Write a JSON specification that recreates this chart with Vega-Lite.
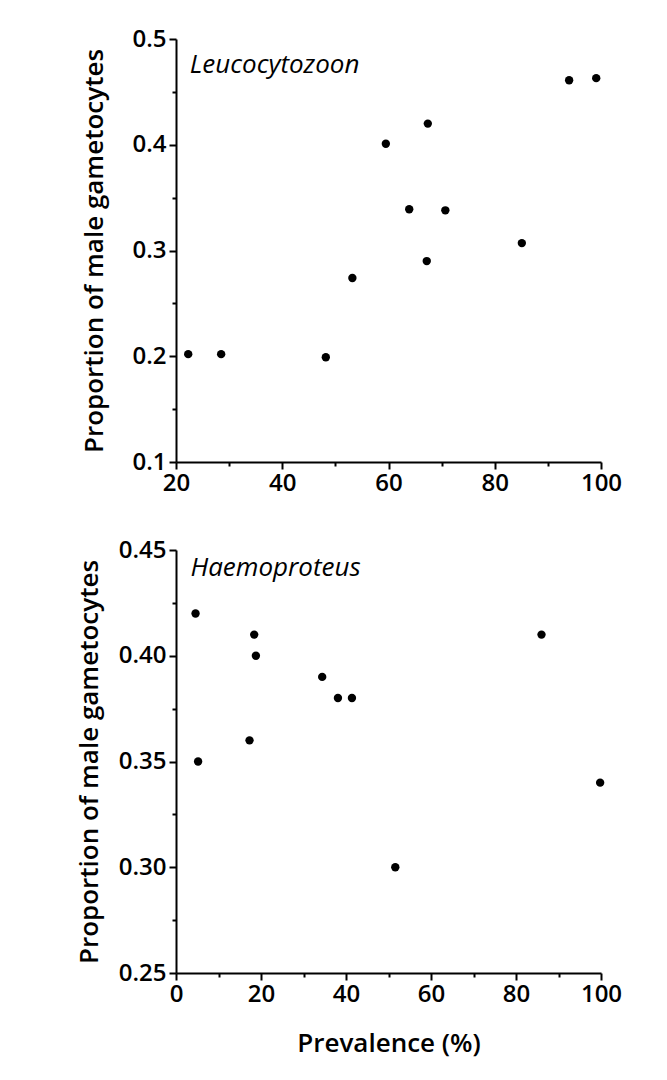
{
  "$schema": "https://vega.github.io/schema/vega-lite/v6.json",
  "background": "white",
  "padding": {"left": 76, "top": 27, "right": 5, "bottom": 5},
  "spacing": 43,
  "config": {
    "view": {"stroke": null},
    "font": "Open Sans",
    "axis": {
      "domainColor": "black",
      "domainWidth": 2,
      "tickColor": "black",
      "tickWidth": 2,
      "labelColor": "black",
      "labelFont": "Open Sans",
      "labelFontSize": 24,
      "labelFontWeight": 600,
      "titleFont": "Open Sans",
      "titleFontSize": 26,
      "titleFontWeight": 600,
      "titleColor": "black",
      "grid": false,
      "labelOverlap": false,
      "labelFlush": false
    }
  },
  "datasets": {
    "leuco": [
      {"prevalence": 22.3, "proportion": 0.202},
      {"prevalence": 28.5, "proportion": 0.202},
      {"prevalence": 48.2, "proportion": 0.199},
      {"prevalence": 53.2, "proportion": 0.274},
      {"prevalence": 59.5, "proportion": 0.401},
      {"prevalence": 63.9, "proportion": 0.339},
      {"prevalence": 67.4, "proportion": 0.420},
      {"prevalence": 67.2, "proportion": 0.290},
      {"prevalence": 70.7, "proportion": 0.338},
      {"prevalence": 85.1, "proportion": 0.307},
      {"prevalence": 94.0, "proportion": 0.461},
      {"prevalence": 99.1, "proportion": 0.463}
    ],
    "haemo": [
      {"prevalence": 4.6, "proportion": 0.420},
      {"prevalence": 5.2, "proportion": 0.350},
      {"prevalence": 17.3, "proportion": 0.360},
      {"prevalence": 18.4, "proportion": 0.410},
      {"prevalence": 18.8, "proportion": 0.400},
      {"prevalence": 34.4, "proportion": 0.390},
      {"prevalence": 38.1, "proportion": 0.380},
      {"prevalence": 41.4, "proportion": 0.380},
      {"prevalence": 51.6, "proportion": 0.300},
      {"prevalence": 86.0, "proportion": 0.410},
      {"prevalence": 99.8, "proportion": 0.340}
    ]
  },
  "vconcat": [
    {
      "width": 425,
      "height": 423,
      "resolve": {"axis": {"x": "independent", "y": "independent"}},
      "layer": [
        {
          "data": {"name": "leuco"},
          "mark": {"type": "point", "filled": true, "color": "black", "opacity": 1, "size": 70},
          "encoding": {
            "x": {
              "field": "prevalence", "type": "quantitative",
              "scale": {"domain": [20, 100], "nice": false, "zero": false},
              "axis": {
                "title": null,
                "orient": "bottom",
                "values": [20, 40, 60, 80, 100],
                "tickSize": 7,
                "labelPadding": 2
              }
            },
            "y": {
              "field": "proportion", "type": "quantitative",
              "scale": {"domain": [0.1, 0.5], "nice": false, "zero": false},
              "axis": {
                "title": "Proportion of male gametocytes",
                "orient": "left",
                "values": [0.1, 0.2, 0.3, 0.4, 0.5],
                "format": ".1f",
                "tickSize": 7,
                "labelPadding": 3,
                "titlePadding": 24
              }
            }
          }
        },
        {
          "data": {"values": [{}]},
          "mark": {"type": "text", "text": "Leucocytozoon", "fontStyle": "italic", "fontSize": 26, "align": "left", "baseline": "middle", "color": "black", "font": "Open Sans"},
          "encoding": {
            "x": {
              "datum": 22.6, "type": "quantitative",
              "axis": {"orient": "bottom", "values": [30, 50, 70, 90], "labels": false, "domain": false, "title": null, "tickSize": 4}
            },
            "y": {
              "datum": 0.475, "type": "quantitative",
              "axis": {"orient": "left", "values": [0.15, 0.25, 0.35, 0.45], "labels": false, "domain": false, "title": null, "tickSize": 4}
            }
          }
        }
      ]
    },
    {
      "width": 425,
      "height": 423,
      "resolve": {"axis": {"x": "independent", "y": "independent"}},
      "layer": [
        {
          "data": {"name": "haemo"},
          "mark": {"type": "point", "filled": true, "color": "black", "opacity": 1, "size": 70},
          "encoding": {
            "x": {
              "field": "prevalence", "type": "quantitative",
              "scale": {"domain": [0, 100], "nice": false},
              "axis": {
                "title": "Prevalence (%)",
                "orient": "bottom",
                "values": [0, 20, 40, 60, 80, 100],
                "tickSize": 7,
                "labelPadding": 2,
                "titlePadding": 24
              }
            },
            "y": {
              "field": "proportion", "type": "quantitative",
              "scale": {"domain": [0.25, 0.45], "nice": false, "zero": false},
              "axis": {
                "title": "Proportion of male gametocytes",
                "orient": "left",
                "values": [0.25, 0.3, 0.35, 0.4, 0.45],
                "format": ".2f",
                "tickSize": 7,
                "labelPadding": 3,
                "titlePadding": 16
              }
            }
          }
        },
        {
          "data": {"values": [{}]},
          "mark": {"type": "text", "text": "Haemoproteus", "fontStyle": "italic", "fontSize": 26, "align": "left", "baseline": "middle", "color": "black", "font": "Open Sans"},
          "encoding": {
            "x": {
              "datum": 3.4, "type": "quantitative",
              "axis": {"orient": "bottom", "values": [10, 30, 50, 70, 90], "labels": false, "domain": false, "title": null, "tickSize": 4}
            },
            "y": {
              "datum": 0.4415, "type": "quantitative",
              "axis": {"orient": "left", "values": [0.275, 0.325, 0.375, 0.425], "labels": false, "domain": false, "title": null, "tickSize": 4}
            }
          }
        }
      ]
    }
  ]
}
